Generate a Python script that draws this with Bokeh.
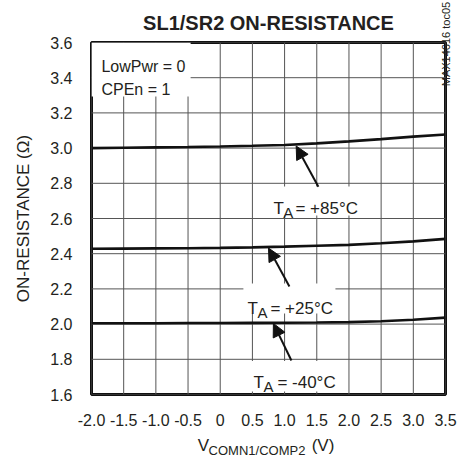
import math
from bokeh.plotting import figure
from bokeh.models import Label, Arrow, NormalHead, FixedTicker, Range1d, LinearAxis
from bokeh.embed import file_html
from bokeh.resources import INLINE

# ---- data ----
v_comn = [-2.0, -1.5, -1.0, -0.5, 0.0, 0.5, 1.0, 1.5, 2.0, 2.5, 3.0, 3.5]
r_p85 = [3.000, 3.002, 3.004, 3.006, 3.009, 3.013, 3.018, 3.027, 3.038, 3.051, 3.065, 3.077]
r_p25 = [2.428, 2.429, 2.430, 2.431, 2.433, 2.436, 2.440, 2.445, 2.450, 2.459, 2.470, 2.484]
r_m40 = [2.005, 2.005, 2.005, 2.006, 2.006, 2.007, 2.008, 2.009, 2.011, 2.016, 2.025, 2.037]

x_ticks = [-2.0, -1.5, -1.0, -0.5, 0.0, 0.5, 1.0, 1.5, 2.0, 2.5, 3.0, 3.5]
x_tick_labels = ["-2.0", "-1.5", "-1.0", "-0.5", "0", "0.5", "1.0", "1.5", "2.0", "2.5", "3.0", "3.5"]
y_ticks = [1.6, 1.8, 2.0, 2.2, 2.4, 2.6, 2.8, 3.0, 3.2, 3.4, 3.6]
y_tick_labels = ["1.6", "1.8", "2.0", "2.2", "2.4", "2.6", "2.8", "3.0", "3.2", "3.4", "3.6"]

FONT_S = "'Liberation Sans', Arial, sans-serif"
TXT = "#231f20"
X0, X1, Y0, Y1 = -2.0, 3.5, 1.6, 3.6

p = figure(width=461, height=464, output_backend="svg", toolbar_location=None,
           x_range=Range1d(X0, X1), y_range=Range1d(Y0, Y1),
           min_border_left=91, min_border_right=16, min_border_top=42, min_border_bottom=70)
p.background_fill_color = "white"
p.border_fill_color = "white"
p.outline_line_color = "#111111"
p.outline_line_width = 3
p.grid.visible = False

# title
p.title.text = "SL1/SR2 ON-RESISTANCE"
p.title.align = "center"
p.title.offset = -2
p.title.standoff = 18
p.title.text_font = FONT_S
p.title.text_font_size = "20px"
p.title.text_font_style = "bold"
p.title.text_color = TXT


def plain_axis(ax, size):
    ax.axis_line_color = None
    ax.major_tick_line_color = None
    ax.minor_tick_line_color = None
    ax.major_tick_out = 0
    ax.major_tick_in = 0
    ax.minor_tick_out = 0
    ax.minor_tick_in = 0
    ax.major_label_text_font = FONT_S
    ax.major_label_text_font_size = size
    ax.major_label_text_color = TXT


plain_axis(p.xaxis[0], "16px")
plain_axis(p.yaxis[0], "16px")
p.xaxis[0].ticker = FixedTicker(ticks=x_ticks)
p.xaxis[0].major_label_overrides = {t: l for t, l in zip(x_ticks, x_tick_labels)}
p.xaxis[0].major_label_standoff = 19
p.yaxis[0].ticker = FixedTicker(ticks=y_ticks)
p.yaxis[0].major_label_overrides = {t: l for t, l in zip(y_ticks, y_tick_labels)}
p.yaxis[0].major_label_standoff = 19
p.yaxis[0].axis_label = "ON-RESISTANCE (Ω)"
p.yaxis[0].axis_label_text_font = FONT_S
p.yaxis[0].axis_label_text_font_size = "17px"
p.yaxis[0].axis_label_text_font_style = "normal"
p.yaxis[0].axis_label_text_color = TXT
p.yaxis[0].axis_label_standoff = 14

# x-axis title "V_COMN1/COMP2 (V)": main part and subscript as two extra label rows
xlab_pos = [-0.26, 1.597]
xlab_txt = ["V", "(V)"]
xsub_pos = [0.571]
xsub_txt = ["COMN1/COMP2"]

ax_b = LinearAxis(ticker=FixedTicker(ticks=xlab_pos),
                  major_label_overrides={t: l for t, l in zip(xlab_pos, xlab_txt)})
plain_axis(ax_b, "17px")
ax_b.major_label_standoff = 7
p.add_layout(ax_b, "below")

ax_c = LinearAxis(ticker=FixedTicker(ticks=xsub_pos),
                  major_label_overrides={t: l for t, l in zip(xsub_pos, xsub_txt)})
plain_axis(ax_c, "13px")
ax_c.major_label_standoff = -15
p.add_layout(ax_c, "below")

# side code on the right, as a single vertical label near the top
side_pos = [3.367]
side_txt = ["MAX14616 toc05"]
ax_r = LinearAxis(ticker=FixedTicker(ticks=side_pos),
                  major_label_overrides={t: l for t, l in zip(side_pos, side_txt)})
plain_axis(ax_r, "11px")
ax_r.major_label_standoff = 1
ax_r.major_label_orientation = math.pi / 2
p.add_layout(ax_r, "right")

# grid lines drawn from the tick arrays
p.segment(x0=x_ticks, y0=[Y0] * len(x_ticks), x1=x_ticks, y1=[Y1] * len(x_ticks),
          line_color="#555555", line_width=1)
p.segment(x0=[X0] * len(y_ticks), y0=y_ticks, x1=[X1] * len(y_ticks), y1=y_ticks,
          line_color="#555555", line_width=1)

# white boxes behind annotations (cover grid)
box_left = [-2.0, 0.655, 0.36, 0.39]
box_right = [-0.46, 2.24, 1.79, 1.87]
box_bottom = [3.293, 2.617, 2.06, 1.617]
box_top = [3.6, 2.782, 2.23, 1.79]
p.quad(left=box_left, right=box_right, bottom=box_bottom, top=box_top,
       fill_color="white", line_color=None)

# curves
for ys in (r_p85, r_p25, r_m40):
    p.line(v_comn, ys, line_color="#111111", line_width=2.6)

# arrows (tail -> tip)
arrow_tail_x = [1.525, 1.075, 1.106]
arrow_tail_y = [2.78, 2.214, 1.793]
arrow_tip_x = [1.18, 0.75, 0.826]
arrow_tip_y = [3.012, 2.432, 2.004]
for xs, ys, xe, ye in zip(arrow_tail_x, arrow_tail_y, arrow_tip_x, arrow_tip_y):
    p.add_layout(Arrow(end=NormalHead(size=13, fill_color="#111111", line_color="#111111", line_width=1),
                       x_start=xs, y_start=ys, x_end=xe, y_end=ye,
                       line_color="#111111", line_width=2))


def lab(x, y, text, size="17px", style="normal", align="left", baseline="alphabetic"):
    p.add_layout(Label(x=x, y=y, text=text, text_font=FONT_S, text_font_size=size,
                       text_font_style=style, text_color=TXT, text_align=align,
                       text_baseline=baseline))


# notes in the upper-left box
lab(-1.845, 3.464, "LowPwr = 0", size="16px")
lab(-1.845, 3.333, "CPEn = 1", size="16px")

# temperature labels: T, subscript A, rest
temp_text = ["= +85°C", "= +25°C", "= -40°C"]
t_x = [0.826, 0.422, 0.516]
a_x = [0.981, 0.578, 0.671]
r_x = [1.168, 0.78, 0.888]
t_base = [2.657, 2.089, 1.668]
for tx, ax_, rx, tb, tt in zip(t_x, a_x, r_x, t_base, temp_text):
    lab(tx, tb, "T")
    lab(ax_, tb - 0.023, "A", size="15px")
    lab(rx, tb, tt)

open("out.html", "w").write(file_html(p, INLINE))
